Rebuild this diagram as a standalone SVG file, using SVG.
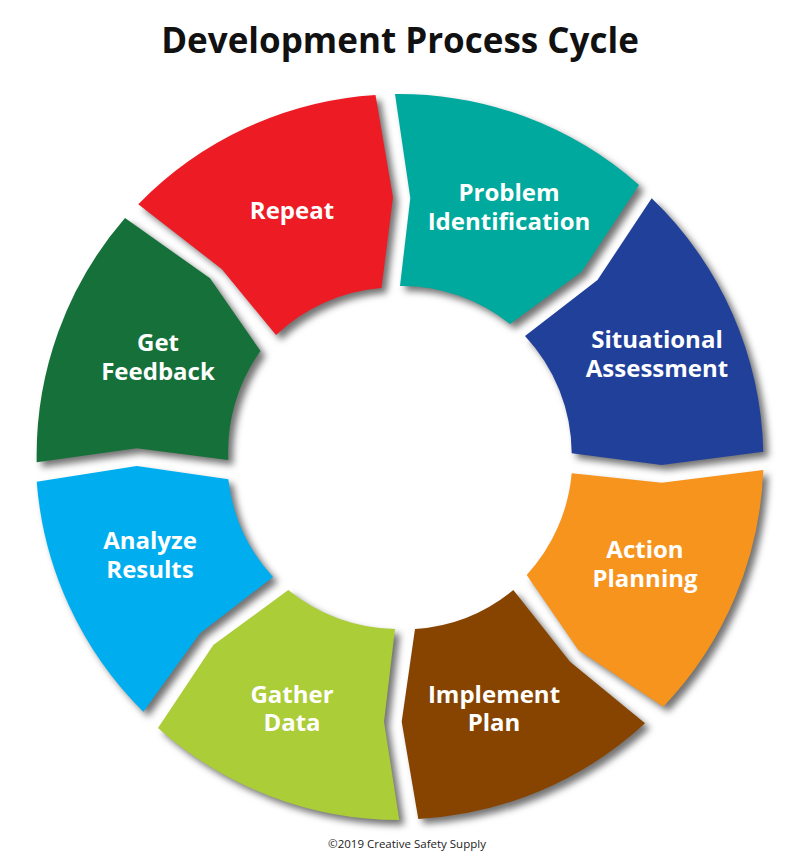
<svg xmlns="http://www.w3.org/2000/svg" xmlns:xlink="http://www.w3.org/1999/xlink" width="800" height="859" viewBox="0 0 800 859">
  <style>
    .lbl { font-family: "Open Sans", "Noto Sans", "Liberation Sans", sans-serif; font-weight: 700; font-size: 24px; fill: #ffffff; text-anchor: middle; }
    .title { font-family: "Open Sans", "Noto Sans", "Liberation Sans", sans-serif; font-weight: 700; font-size: 35px; fill: #111111; text-anchor: middle; }
    .copy { font-family: "Open Sans", "Noto Sans", "Liberation Sans", sans-serif; font-weight: 400; font-size: 11.5px; fill: #222222; text-anchor: middle; }
  </style>
  <defs>
    <filter id="sh" x="-10%" y="-10%" width="120%" height="120%">
      <feGaussianBlur in="SourceAlpha" stdDeviation="3.5"/>
      <feOffset dx="5" dy="5" result="b"/>
      <feFlood flood-color="#000000" flood-opacity="0.55"/>
      <feComposite in2="b" operator="in"/>
    </filter>
    <path id="s-repeat" d="M138.3,204.3 A363,363 0 0 1 375.5,95 L393,197.5 L381.5,288 A173,173 0 0 0 276,335 L221.7,269 Z"/>
    <path id="s-problem" d="M395,94 A363,363 0 0 1 639,185 L581.7,271.7 L510,324 A173,173 0 0 0 400,286 L410.3,198 Z"/>
    <path id="s-situational" d="M651.7,198.3 A363,363 0 0 1 763.3,451.7 L661.7,465 L571.7,453.3 A173,173 0 0 0 525,336 L597.5,280 Z"/>
    <path id="s-action" d="M763.3,470 A363,363 0 0 1 663.3,706.7 L578.3,650 L526.7,575 A173,173 0 0 0 571.7,473.3 L661.7,482.7 Z"/>
    <path id="s-implement" d="M645,723.3 A363,363 0 0 1 418.3,819 L401.7,721.7 L415,629 A173,173 0 0 0 513.3,590 L570,661.7 Z"/>
    <path id="s-gather" d="M399.3,820 A363,363 0 0 1 158,728 L213.3,645 L288.3,590 A173,173 0 0 0 395,629 L384,721.7 Z"/>
    <path id="s-analyze" d="M143.3,711.7 A363,363 0 0 1 36.7,481.7 L136.7,466 L228.3,479.3 A173,173 0 0 0 273,577 L200,633.3 Z"/>
    <path id="s-feedback" d="M36.7,462.3 A363,363 0 0 1 125,218 L210,278.3 L260.5,351 A173,173 0 0 0 228.3,460 L136.7,448.3 Z"/>
  </defs>

  <rect width="800" height="859" fill="#ffffff"/>

  <text class="title" x="400" y="53">Development Process Cycle</text>

  <g id="shadows" filter="url(#sh)">
    <use xlink:href="#s-repeat" href="#s-repeat"/>
    <use xlink:href="#s-problem" href="#s-problem"/>
    <use xlink:href="#s-situational" href="#s-situational"/>
    <use xlink:href="#s-action" href="#s-action"/>
    <use xlink:href="#s-implement" href="#s-implement"/>
    <use xlink:href="#s-gather" href="#s-gather"/>
    <use xlink:href="#s-analyze" href="#s-analyze"/>
    <use xlink:href="#s-feedback" href="#s-feedback"/>
  </g>

  <g id="connectors"></g>

  <g id="node-repeat">
    <use xlink:href="#s-repeat" href="#s-repeat" fill="#ED1C24"/>
    <text class="lbl" x="292" y="219">Repeat</text>
  </g>
  <g id="node-problem-identification">
    <use xlink:href="#s-problem" href="#s-problem" fill="#00A99D"/>
    <text class="lbl" x="509" y="201">Problem</text>
    <text class="lbl" x="509" y="230">Identification</text>
  </g>
  <g id="node-situational-assessment">
    <use xlink:href="#s-situational" href="#s-situational" fill="#21409A"/>
    <text class="lbl" x="657" y="348">Situational</text>
    <text class="lbl" x="657" y="377">Assessment</text>
  </g>
  <g id="node-action-planning">
    <use xlink:href="#s-action" href="#s-action" fill="#F7941D"/>
    <text class="lbl" x="645" y="558">Action</text>
    <text class="lbl" x="645" y="587">Planning</text>
  </g>
  <g id="node-implement-plan">
    <use xlink:href="#s-implement" href="#s-implement" fill="#874400"/>
    <text class="lbl" x="494" y="703">Implement</text>
    <text class="lbl" x="494" y="731">Plan</text>
  </g>
  <g id="node-gather-data">
    <use xlink:href="#s-gather" href="#s-gather" fill="#ABCD37"/>
    <text class="lbl" x="292" y="703">Gather</text>
    <text class="lbl" x="292" y="731">Data</text>
  </g>
  <g id="node-analyze-results">
    <use xlink:href="#s-analyze" href="#s-analyze" fill="#00AEEF"/>
    <text class="lbl" x="150" y="549">Analyze</text>
    <text class="lbl" x="150" y="578">Results</text>
  </g>
  <g id="node-get-feedback">
    <use xlink:href="#s-feedback" href="#s-feedback" fill="#157139"/>
    <text class="lbl" x="158" y="351">Get</text>
    <text class="lbl" x="158" y="380">Feedback</text>
  </g>

  <text class="copy" x="407" y="848">©2019 Creative Safety Supply</text>
</svg>
